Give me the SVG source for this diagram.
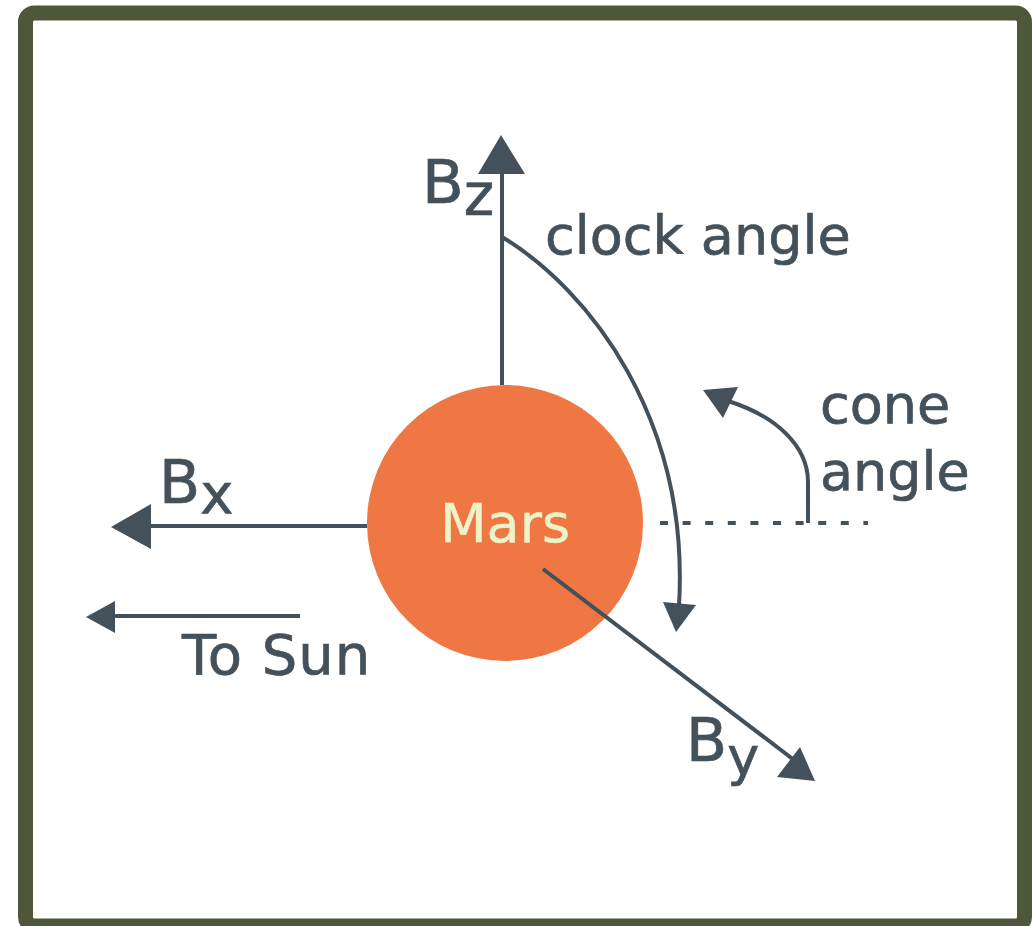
<svg xmlns="http://www.w3.org/2000/svg" width="1036" height="926" viewBox="0 0 1036 926">
<style>
.ln{stroke:#44515a;stroke-width:4;fill:none}
.hd{fill:#44515a}
.t{font-family:"DejaVu Sans","Verdana",sans-serif;fill:#44515a;stroke:#44515a;stroke-width:0.7;font-size:55px}
.m{font-family:"DejaVu Sans","Verdana",sans-serif;fill:#eef3c8;stroke:#eef3c8;stroke-width:0.5;font-size:54px}
</style>
<rect x="0" y="0" width="1036" height="926" fill="#ffffff"/>
<rect x="25.5" y="13" width="999" height="913" rx="9" fill="#ffffff" stroke="#4e573a" stroke-width="15"/>
<g id="mars">
<circle cx="505" cy="523" r="138" fill="#ee7744"/>
<text class="m" x="440" y="542">Mars</text>
</g>
<g id="connectors">
<line class="ln" x1="502" y1="385" x2="502" y2="170"/>
<polygon class="hd" points="501,135 478,174 525,174"/>
<line class="ln" x1="367" y1="526" x2="148" y2="526"/>
<polygon class="hd" points="111,527 151,504 151,549"/>
<line class="ln" x1="300" y1="616" x2="112" y2="616"/>
<polygon class="hd" points="86,617 115,601 115,633"/>
<line class="ln" x1="543" y1="569" x2="798" y2="763"/>
<polygon class="hd" points="815,781 800,747 777,777"/>
<path class="ln" d="M502,237 C590,290 690,420 679,606"/>
<polygon class="hd" points="676,632 663,602 696,605"/>
<path class="ln" d="M808,523 L808,482 C808,446 776,416 728,401"/>
<polygon class="hd" points="703,390 738,387 723,418"/>
<line x1="660" y1="523" x2="868" y2="523" stroke="#44515a" stroke-width="4" stroke-dasharray="8 14.6"/>
</g>
<g id="labels">
<text class="t" x="422" y="203" style="font-size:61px">B<tspan dy="12" style="font-size:58px">z</tspan></text>
<text class="t" x="159" y="503" style="font-size:60px">B<tspan dy="10" style="font-size:56px">x</tspan></text>
<text class="t" x="686" y="761" style="font-size:60px">B<tspan dy="14" style="font-size:54px">y</tspan></text>
<text class="t" x="545" y="254" style="font-size:54px">clock angle</text>
<text class="t" x="820" y="423" style="font-size:54px">cone</text>
<text class="t" x="820" y="490" style="font-size:54px">angle</text>
<text class="t" x="182" y="674" style="font-size:56px;letter-spacing:1px">To Sun</text>
</g>
</svg>
